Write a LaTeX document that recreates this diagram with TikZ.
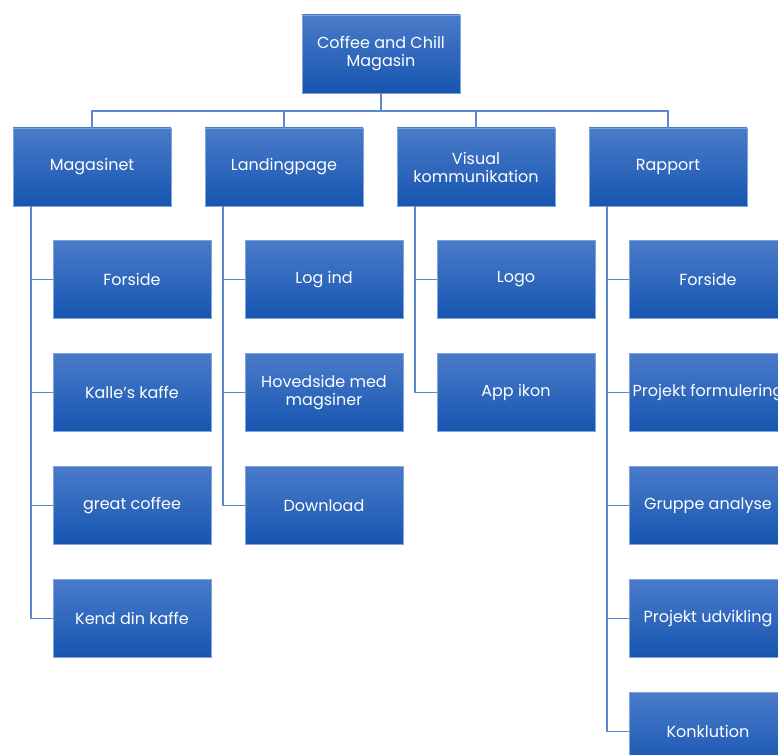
\documentclass[tikz,border=0pt]{standalone}
\usepackage{fontspec}
\setmainfont{Poppins}
\definecolor{boxtop}{HTML}{4A7BC9}
\definecolor{boxmid}{HTML}{1D62C4}
\definecolor{boxbot}{HTML}{1655B0}
\definecolor{boxedge}{HTML}{7FA3DA}
\definecolor{linkcol}{HTML}{5A88CF}
\tikzset{
  box/.style={draw=boxedge,line width=0.6pt,top color=boxtop,middle color=boxmid,bottom color=boxbot,
    minimum width=158pt,minimum height=78pt,text=white,align=center,inner sep=2pt,
    font=\fontsize{16}{18}\selectfont},
  link/.style={draw=linkcol,line width=1.8pt}
}
\begin{document}
\begin{tikzpicture}[x=1pt,y=-1pt]
		\clip (0,0) rectangle (778,754);
		\node[box] (root) at (381,54) {Coffee and Chill\\Magasin};
		\node[box] (mag) at (92,167) {Magasinet};
		\node[box] (land) at (284,167) {Landingpage};
		\node[box] (vis) at (476,167) {Visual\\kommunikation};
		\node[box] (rap) at (668,167) {Rapport};
		% children
		\foreach \t [count=\i] in {Forside,Kalle's kaffe,great coffee,Kend din kaffe}
			\node[box] (m\i) at (132,166.5+113*\i) {\t};
		\foreach \t [count=\i] in {Log ind,{Hovedside med\\magsiner},Download}
			\node[box] (l\i) at (324,166.5+113*\i) {\t};
		\foreach \t [count=\i] in {Logo,App ikon}
			\node[box] (v\i) at (516,166.5+113*\i) {\t};
		\foreach \t [count=\i] in {Forside,Projekt formulering,Gruppe analyse,Projekt udvikling,Konklution}
			\node[box] (r\i) at (708,166.5+113*\i) {\t};
		% connectors
		\foreach \n in {mag,land,vis,rap}
			\draw[link] (root.south) -- ++(0,18) -| (\n.north);
		\foreach \i in {1,...,4}\draw[link] ([xshift=18pt]mag.south west) |- (m\i.west);
		\foreach \i in {1,...,3}\draw[link] ([xshift=18pt]land.south west) |- (l\i.west);
		\foreach \i in {1,2}\draw[link] ([xshift=18pt]vis.south west) |- (v\i.west);
		\foreach \i in {1,...,5}\draw[link] ([xshift=18pt]rap.south west) |- (r\i.west);
\end{tikzpicture}
\end{document}
